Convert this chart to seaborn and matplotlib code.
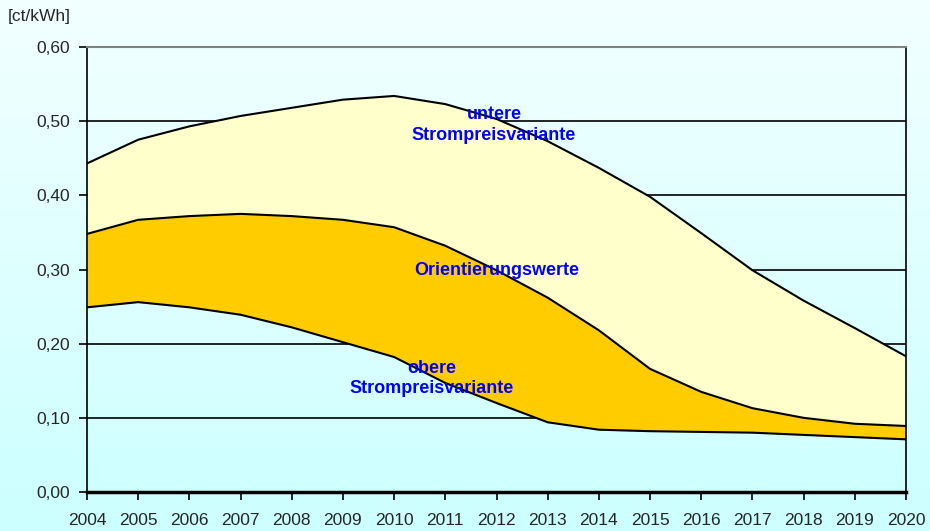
import numpy as np
import pandas as pd
import matplotlib.pyplot as plt
import seaborn as sns

sns.set_theme(style="white")
plt.rcParams['font.family'] = ['Liberation Sans', 'DejaVu Sans']

# data
years = list(range(2004, 2021))
untere = [0.443, 0.475, 0.493, 0.507, 0.518, 0.529, 0.534, 0.523, 0.503, 0.473,
          0.437, 0.398, 0.349, 0.299, 0.258, 0.221, 0.183]
orient = [0.348, 0.367, 0.372, 0.375, 0.372, 0.367, 0.357, 0.332, 0.299, 0.262,
          0.218, 0.166, 0.135, 0.113, 0.100, 0.092, 0.089]
obere = [0.249, 0.256, 0.249, 0.239, 0.222, 0.202, 0.182, 0.147, 0.120, 0.094,
         0.084, 0.082, 0.081, 0.080, 0.077, 0.074, 0.071]
y_ticks = [0.0, 0.1, 0.2, 0.3, 0.4, 0.5, 0.6]
y_labels = ["0,00", "0,10", "0,20", "0,30", "0,40", "0,50", "0,60"]

df = pd.DataFrame({"year": years, "untere": untere, "orient": orient, "obere": obere})

fig = plt.figure(figsize=(9.3, 5.31), dpi=100)

# gradient background over the whole figure
bg = fig.add_axes([0, 0, 1, 1], zorder=-10)
grad = np.linspace(0, 1, 256).reshape(-1, 1)
top_c = np.array([0.95, 1.0, 1.0])
bot_c = np.array([0.80, 1.0, 1.0])
img = top_c[None, None, :] * (1 - grad[:, :, None]) + bot_c[None, None, :] * grad[:, :, None]
bg.imshow(img, aspect="auto", extent=[0, 1, 0, 1])
bg.axis("off")

ax = fig.add_axes([87 / 930, (531 - 492) / 531, (906 - 87) / 930, (492 - 47) / 531])
ax.patch.set_alpha(0)

for v in y_ticks[1:-1]:
    ax.axhline(v, color="black", linewidth=1.2, zorder=1)

ax.fill_between(df["year"], df["orient"], df["untere"], color="#FFFFCC", zorder=2, linewidth=0)
ax.fill_between(df["year"], df["obere"], df["orient"], color="#FFCC00", zorder=2, linewidth=0)

for col in ["untere", "orient", "obere"]:
    sns.lineplot(data=df, x="year", y=col, ax=ax, color="black", linewidth=1.5, zorder=3)

ax.set_xlim(2004, 2020)
ax.set_ylim(0, 0.6)
ax.set_xticks(years)
ax.set_xticklabels([str(y) for y in years], fontsize=12.5)
ax.set_yticks(y_ticks)
ax.set_yticklabels(y_labels, fontsize=12.5)
ax.set_xlabel("")
ax.set_ylabel("")
ax.tick_params(axis="both", direction="out", length=6, width=1.2, color="black",
               left=True, bottom=True, pad=6)
ax.tick_params(axis="x", pad=9)

for s in ["left", "right"]:
    ax.spines[s].set_color("black")
    ax.spines[s].set_linewidth(1.2)
ax.spines["bottom"].set_color("black")
ax.spines["bottom"].set_linewidth(2.5)
ax.spines["top"].set_color("#808080")
ax.spines["top"].set_linewidth(1.5)
for s in ax.spines.values():
    s.set_zorder(4)

lab_kw = dict(color="#0000FF", fontsize=13, fontweight="bold", ha="center", va="center", zorder=5)
ax.text(2011.95, 0.495, "untere\nStrompreisvariante", linespacing=1.28, **lab_kw)
ax.text(2012.0, 0.298, "Orientierungswerte", **lab_kw)
ax.text(2010.73, 0.153, "obere\nStrompreisvariante", linespacing=1.22, **lab_kw)

fig.text(8 / 930, 1 - 17 / 531, "[ct/kWh]", fontsize=12.5, ha="left", va="center")

fig.savefig("out.png", dpi=100)
